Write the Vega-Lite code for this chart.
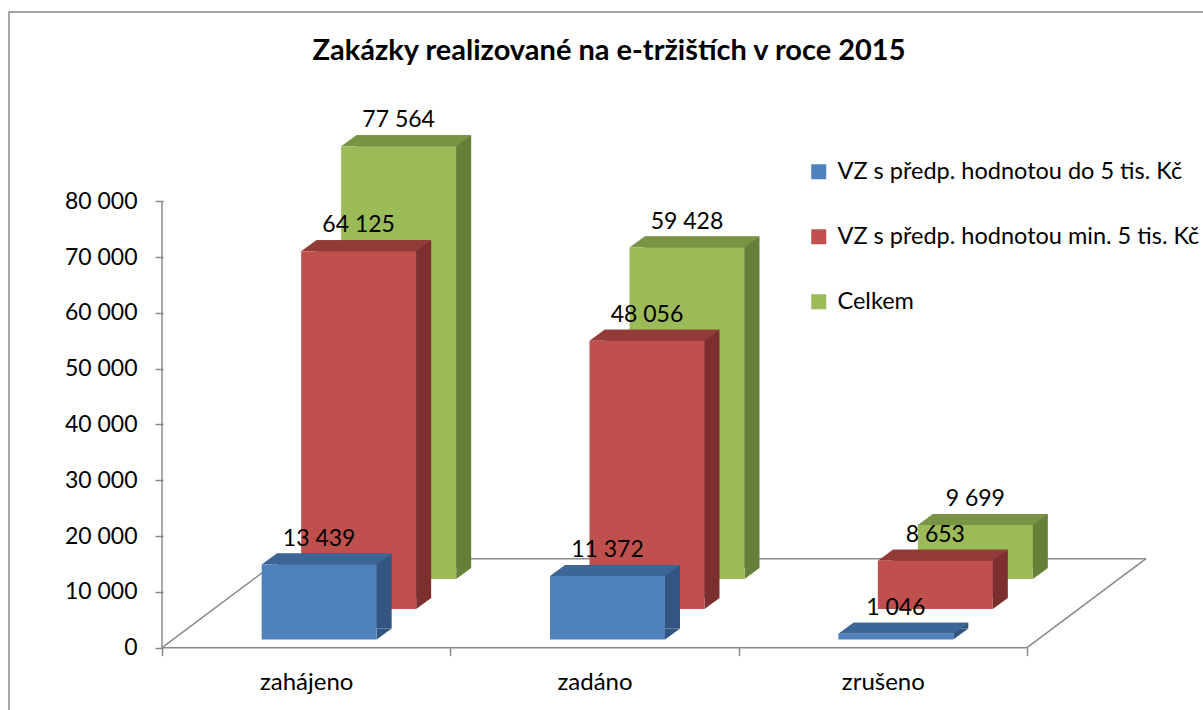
{
  "$schema": "https://vega.github.io/schema/vega-lite/v6.json",
  "width": 1200,
  "height": 710,
  "autosize": {"type": "none"},
  "padding": {"left": 9, "top": 12, "right": 0, "bottom": 0},
  "background": "white",
  "config": {
    "locale": {"number": {"decimal": ",", "thousands": " ", "grouping": [3], "currency": ["", " Kč"]}},
    "view": {"stroke": "#898989", "strokeWidth": 1.5},
    "font": "Lato"
  },
  "title": {
    "text": "Zakázky realizované na e-tržištích v roce 2015",
    "font": "Lato",
    "fontSize": 29,
    "fontWeight": "bold",
    "color": "#000000",
    "anchor": "middle",
    "frame": "group",
    "baseline": "alphabetic",
    "offset": -77
  },
  "datasets": {
    "orders": [
      {"cat": "zahájeno", "s": "VZ s předp. hodnotou do 5 tis. Kč", "k": "b", "value": 13439},
      {"cat": "zahájeno", "s": "VZ s předp. hodnotou min. 5 tis. Kč", "k": "r", "value": 64125},
      {"cat": "zahájeno", "s": "Celkem", "k": "g", "value": 77564},
      {"cat": "zadáno", "s": "VZ s předp. hodnotou do 5 tis. Kč", "k": "b", "value": 11372},
      {"cat": "zadáno", "s": "VZ s předp. hodnotou min. 5 tis. Kč", "k": "r", "value": 48056},
      {"cat": "zadáno", "s": "Celkem", "k": "g", "value": 59428},
      {"cat": "zrušeno", "s": "VZ s předp. hodnotou do 5 tis. Kč", "k": "b", "value": 1046},
      {"cat": "zrušeno", "s": "VZ s předp. hodnotou min. 5 tis. Kč", "k": "r", "value": 8653},
      {"cat": "zrušeno", "s": "Celkem", "k": "g", "value": 9699}
    ]
  },
  "resolve": {"scale": {"x": "independent"}},
  "layer": [
    {
      "data": {"values": [{}]},
      "layer": [
        {
          "mark": {"type": "rule", "color": "#898989", "strokeWidth": 1.5},
          "encoding": {
            "x": {"datum": 0, "type": "quantitative", "scale": {"domain": [-0.53064, 3.63126], "nice": false, "zero": false}, "axis": null},
            "x2": {"datum": 3},
            "y": {"datum": 0, "type": "quantitative", "title": null, "scale": {"domain": [-13315, 113924], "nice": false, "zero": false}}
          }
        },
        {
          "mark": {"type": "rule", "color": "#898989", "strokeWidth": 1.5},
          "encoding": {
            "x": {"datum": 0, "type": "quantitative", "scale": {"domain": [-0.53064, 3.63126], "nice": false, "zero": false}, "axis": null},
            "y": {"datum": 0, "type": "quantitative", "title": null, "scale": {"domain": [-13315, 113924], "nice": false, "zero": false}},
            "y2": {"datum": 80000}
          }
        },
        {
          "mark": {"type": "rule", "color": "#898989", "strokeWidth": 1.5, "x2Offset": 119, "y2Offset": -89},
          "encoding": {
            "x": {"datum": 0, "type": "quantitative", "scale": {"domain": [-0.53064, 3.63126], "nice": false, "zero": false}, "axis": null},
            "x2": {"datum": 0},
            "y": {"datum": 0, "type": "quantitative", "title": null, "scale": {"domain": [-13315, 113924], "nice": false, "zero": false}},
            "y2": {"datum": 0}
          }
        },
        {
          "mark": {"type": "rule", "color": "#898989", "strokeWidth": 1.5, "x2Offset": 119, "y2Offset": -89},
          "encoding": {
            "x": {"datum": 3, "type": "quantitative", "scale": {"domain": [-0.53064, 3.63126], "nice": false, "zero": false}, "axis": null},
            "x2": {"datum": 3},
            "y": {"datum": 0, "type": "quantitative", "title": null, "scale": {"domain": [-13315, 113924], "nice": false, "zero": false}},
            "y2": {"datum": 0}
          }
        },
        {
          "mark": {"type": "rule", "color": "#898989", "strokeWidth": 1.5, "xOffset": 119, "x2Offset": 119, "yOffset": -89, "y2Offset": -89},
          "encoding": {
            "x": {"datum": 0, "type": "quantitative", "scale": {"domain": [-0.53064, 3.63126], "nice": false, "zero": false}, "axis": null},
            "x2": {"datum": 3},
            "y": {"datum": 0, "type": "quantitative", "title": null, "scale": {"domain": [-13315, 113924], "nice": false, "zero": false}},
            "y2": {"datum": 0}
          }
        }
      ]
    },
    {
      "data": {"name": "orders"},
      "encoding": {
        "x": {
          "field": "cat", "type": "nominal", "title": null,
          "scale": {"type": "band", "domain": ["zahájeno", "zadáno", "zrušeno"], "paddingInner": 0, "paddingOuter": 0.58095, "align": 0.45672},
          "axis": {"orient": "bottom", "offset": -74.3, "domain": false, "tickBand": "extent", "tickSize": 8, "tickColor": "#898989", "tickWidth": 1.5, "labelFont": "Lato", "labelFontSize": 24, "labelColor": "#000000", "labelPadding": 34, "labelBaseline": "alphabetic", "labelAngle": 0, "grid": false, "title": null}
        },
        "y": {
          "field": "value", "type": "quantitative", "title": null,
          "scale": {"domain": [-13315, 113924], "nice": false, "zero": false},
          "axis": {"orient": "left", "offset": -154, "domain": false, "values": [0, 10000, 20000, 30000, 40000, 50000, 60000, 70000, 80000], "format": ",d", "tickSize": 8, "tickColor": "#898989", "tickWidth": 1.5, "labelFont": "Lato", "labelFontSize": 23, "labelColor": "#000000", "labelPadding": 18, "grid": false, "title": null}
        }
      },
      "layer": [
        {
          "transform": [{"filter": "datum.k === 'g'"}],
          "mark": {"type": "bar", "width": 115, "color": "#66803A", "xOffset": 107.5, "yOffset": -79.7, "y2Offset": -79.7},
          "encoding": {"y2": {"datum": 0}}
        },
        {
          "transform": [{"filter": "datum.k === 'g'"}],
          "mark": {"type": "point", "shape": "M0,0L0,-0.7333L1,-0.7333Z", "size": 900, "filled": true, "opacity": 1, "strokeWidth": 0, "color": "#66803A", "xOffset": 150, "yOffset": -68.7},
          "encoding": {"y": {"datum": 0, "type": "quantitative", "title": null, "scale": {"domain": [-13315, 113924], "nice": false, "zero": false}}}
        },
        {
          "transform": [{"filter": "datum.k === 'g'"}],
          "mark": {"type": "point", "shape": "M-1,0.0846L0.7692,0.0846L1,-0.0846L-0.7692,-0.0846Z", "size": 16900, "filled": true, "opacity": 1, "strokeWidth": 0, "color": "#7A9446", "xOffset": 100, "yOffset": -74.2}
        },
        {
          "transform": [{"filter": "datum.k === 'g'"}],
          "mark": {"type": "bar", "width": 115, "xOffset": 92.5, "yOffset": -68.7, "y2Offset": -68.7},
          "encoding": {
            "y2": {"datum": 0},
            "color": {
              "field": "s", "type": "nominal",
              "scale": {"domain": ["VZ s předp. hodnotou do 5 tis. Kč", "VZ s předp. hodnotou min. 5 tis. Kč", "Celkem"], "range": ["#4F81BD", "#C0504D", "#9BBB59"]},
              "legend": {"orient": "none", "legendX": 798, "legendY": 148, "title": null, "padding": 0, "symbolType": "square", "symbolSize": 225, "symbolStrokeWidth": 0, "labelFont": "Lato", "labelFontSize": 23.5, "labelColor": "#000000", "labelOffset": 7, "labelLimit": 0, "rowPadding": 40}
            }
          }
        },
        {
          "transform": [{"filter": "datum.k === 'r'"}],
          "mark": {"type": "bar", "width": 115, "color": "#7B2F2E", "xOffset": 67.5, "yOffset": -49.7, "y2Offset": -49.7},
          "encoding": {"y2": {"datum": 0}}
        },
        {
          "transform": [{"filter": "datum.k === 'r'"}],
          "mark": {"type": "point", "shape": "M0,0L0,-0.7333L1,-0.7333Z", "size": 900, "filled": true, "opacity": 1, "strokeWidth": 0, "color": "#7B2F2E", "xOffset": 110, "yOffset": -38.7},
          "encoding": {"y": {"datum": 0, "type": "quantitative", "title": null, "scale": {"domain": [-13315, 113924], "nice": false, "zero": false}}}
        },
        {
          "transform": [{"filter": "datum.k === 'r'"}],
          "mark": {"type": "point", "shape": "M-1,0.0846L0.7692,0.0846L1,-0.0846L-0.7692,-0.0846Z", "size": 16900, "filled": true, "opacity": 1, "strokeWidth": 0, "color": "#933B39", "xOffset": 60, "yOffset": -44.2}
        },
        {
          "transform": [{"filter": "datum.k === 'r'"}],
          "mark": {"type": "bar", "width": 115, "xOffset": 52.5, "yOffset": -38.7, "y2Offset": -38.7},
          "encoding": {
            "y2": {"datum": 0},
            "color": {"field": "s", "type": "nominal"}
          }
        },
        {
          "transform": [{"filter": "datum.k === 'b'"}],
          "mark": {"type": "bar", "width": 115, "color": "#325681", "xOffset": 28, "yOffset": -19.2, "y2Offset": -19.2},
          "encoding": {"y2": {"datum": 0}}
        },
        {
          "transform": [{"filter": "datum.k === 'b'"}],
          "mark": {"type": "point", "shape": "M0,0L0,-0.7333L1,-0.7333Z", "size": 900, "filled": true, "opacity": 1, "strokeWidth": 0, "color": "#325681", "xOffset": 70.5, "yOffset": -8.2},
          "encoding": {"y": {"datum": 0, "type": "quantitative", "title": null, "scale": {"domain": [-13315, 113924], "nice": false, "zero": false}}}
        },
        {
          "transform": [{"filter": "datum.k === 'b'"}],
          "mark": {"type": "point", "shape": "M-1,0.0846L0.7692,0.0846L1,-0.0846L-0.7692,-0.0846Z", "size": 16900, "filled": true, "opacity": 1, "strokeWidth": 0, "color": "#3C6696", "xOffset": 20.5, "yOffset": -13.7}
        },
        {
          "transform": [{"filter": "datum.k === 'b'"}],
          "mark": {"type": "bar", "width": 115, "xOffset": 13, "yOffset": -8.2, "y2Offset": -8.2},
          "encoding": {
            "y2": {"datum": 0},
            "color": {"field": "s", "type": "nominal"}
          }
        },
        {
          "transform": [{"filter": "datum.k === 'g'"}],
          "mark": {"type": "text", "font": "Lato", "fontSize": 23, "baseline": "alphabetic", "align": "center", "color": "#000000", "xOffset": 92.5, "yOffset": -87.5},
          "encoding": {"text": {"field": "value", "type": "quantitative", "format": ",d"}}
        },
        {
          "transform": [{"filter": "datum.k === 'r'"}],
          "mark": {"type": "text", "font": "Lato", "fontSize": 23, "baseline": "alphabetic", "align": "center", "color": "#000000", "xOffset": 52.5, "yOffset": -57.5},
          "encoding": {"text": {"field": "value", "type": "quantitative", "format": ",d"}}
        },
        {
          "transform": [{"filter": "datum.k === 'b'"}],
          "mark": {"type": "text", "font": "Lato", "fontSize": 23, "baseline": "alphabetic", "align": "center", "color": "#000000", "xOffset": 13, "yOffset": -27},
          "encoding": {"text": {"field": "value", "type": "quantitative", "format": ",d"}}
        }
      ]
    }
  ]
}
